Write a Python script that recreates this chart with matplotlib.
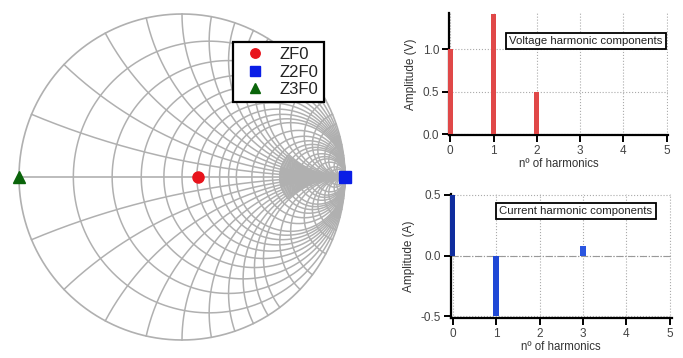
import numpy as np
import matplotlib.pyplot as plt

plt.rcParams['font.family'] = ['Liberation Sans', 'DejaVu Sans']

# Smith chart grid values
r_grid = [0.2, 0.4, 0.6, 0.8, 1.0, 1.2, 1.4, 1.6, 1.8, 2.0, 2.5, 3, 3.5, 4,
          4.5, 5, 6, 7, 8, 10, 15, 20, 50]
x_grid = [0.2, 0.4, 0.6, 0.8, 1.0, 1.2, 1.4, 1.6, 1.8, 2.0, 2.5, 3, 4,
          5, 6, 8, 10, 15, 20, 50]
x_fine = [0.05, 0.1, 0.15, 0.25, 0.3, 0.35, 0.45, 0.5, 0.55, 0.65, 0.7,
          0.75, 0.9, 1.1, 1.3, 1.5, 1.7, 1.9]
r_fine_start = 4.0

# impedance points (reflection coefficient)
gamma_pts = {"ZF0": 0.1 + 0j, "Z2F0": 1.0 + 0j, "Z3F0": -1.0 + 0j}

# harmonic components
harm_n = [0, 1, 2, 3, 4, 5]
volt_amp = [1.0, 1.41, 0.5, 0.0, 0.0, 0.0]
curr_amp = [0.5, -0.5, 0.0, 0.08, 0.0, 0.0]

W, H = 683, 358
fig = plt.figure(figsize=(W / 100, H / 100), dpi=100)
grid_col = "#b0b0b0"


def gam(z):
    return (z - 1) / (z + 1)


# ---- Smith chart ----
cx, cy, R = 182, 177, 163
pad = 6
ax = fig.add_axes([(cx - R - pad) / W, 1 - (cy + R + pad) / H,
                   2 * (R + pad) / W, 2 * (R + pad) / H])
lim = (R + pad) / R
ax.set_xlim(-lim, lim)
ax.set_ylim(-lim, lim)
ax.axis("off")

t = np.linspace(-np.pi / 2 + 1e-4, np.pi / 2 - 1e-4, 800)
# outer circle + horizontal axis
g = gam(0 + 1j * np.tan(t))
ax.plot(g.real, g.imag, color=grid_col, lw=1.2)
ax.plot([-1, 1], [0, 0], color=grid_col, lw=1.2)
for r in r_grid:
    g = gam(r + 1j * np.tan(t))
    ax.plot(g.real, g.imag, color=grid_col, lw=1.1)
tr = np.linspace(0, np.pi / 2 - 1e-4, 800)
for x in x_grid:
    for s in (1, -1):
        g = gam(np.tan(tr) + 1j * s * x)
        ax.plot(g.real, g.imag, color=grid_col, lw=1.1)
tf = np.linspace(np.arctan(r_fine_start), np.pi / 2 - 1e-4, 400)
for x in x_fine:
    for s in (1, -1):
        g = gam(np.tan(tf) + 1j * s * x)
        ax.plot(g.real, g.imag, color=grid_col, lw=0.9)

p = gamma_pts
ax.plot(p["ZF0"].real, p["ZF0"].imag, "o", color="#e8141c", ms=8, label="ZF0", clip_on=False)
ax.plot(p["Z2F0"].real, p["Z2F0"].imag, "s", color="#0a1ee6", ms=9, label="Z2F0", clip_on=False)
ax.plot(p["Z3F0"].real, p["Z3F0"].imag, "^", color="#0a640a", ms=9, label="Z3F0", clip_on=False)
leg = ax.legend(loc="upper left", bbox_to_anchor=((233 - (cx - R - pad)) / (2 * (R + pad)),
                                                  1 - (42 - (cy - R - pad)) / (2 * (R + pad))),
                fontsize=12, frameon=True, fancybox=False, framealpha=1,
                borderpad=0.3, handletextpad=0.5, labelspacing=0.15,
                handlelength=2.0, borderaxespad=0, markerscale=0.85)
leg.get_frame().set_edgecolor("black")
leg.get_frame().set_linewidth(1.6)
for txt in leg.get_texts():
    txt.set_color("#222222")


def style(a):
    for s in ("top", "right"):
        a.spines[s].set_visible(False)
    for s in ("left", "bottom"):
        a.spines[s].set_linewidth(1.6)
    a.tick_params(direction="out", length=5, width=1.4, labelsize=8.5, pad=2,
                  colors="black", labelcolor="#444444")
    a.grid(True, ls=":", color="#aaaaaa", lw=0.8)
    a.set_axisbelow(True)
    a.set_xticks(harm_n)
    a.set_xlabel("nº of harmonics", fontsize=8.3, color="#333333", labelpad=1)


def axes_px(x0, x1, y0, y1):
    return fig.add_axes([x0 / W, 1 - y1 / H, (x1 - x0) / W, (y1 - y0) / H])


def box_text(x, y, s):
    fig.text(x / W, 1 - y / H, s, fontsize=8.2, ha="center", va="center",
             color="#222222",
             bbox=dict(boxstyle="square,pad=0.3", fc="white", ec="black", lw=1.3))


# ---- voltage ----
av = axes_px(449, 668, 13.3, 135.3)
av.bar(harm_n, volt_amp, width=0.12, color="#e04848", zorder=3, clip_on=False)
av.set_xlim(-0.03, 5.03)
av.set_ylim(-0.015, 1.42)
av.set_yticks([0, 0.5, 1.0])
av.set_yticklabels(["0.0", "0.5", "1.0"])
style(av)
av.set_ylabel("Amplitude (V)", fontsize=8.5, color="#333333", labelpad=4)
box_text(586, 41, "Voltage harmonic components")

# ---- current ----
ac = axes_px(450.5, 672, 193.7, 318)
curr_cols = ["#0f2d9e", "#1f48d6", "#1f48d6", "#2a55e0", "#1f48d6", "#1f48d6"]
ac.bar(harm_n, curr_amp, width=0.12, color=curr_cols, zorder=3, clip_on=False)
ac.axhline(0, color="#999999", ls="-.", lw=0.8, zorder=2)
ac.set_xlim(-0.05, 5.05)
ac.set_ylim(-0.515, 0.51)
ac.set_yticks([-0.5, 0, 0.5])
ac.set_yticklabels(["-0.5", "0.0", "0.5"])
style(ac)
ac.set_ylabel("Amplitude (A)", fontsize=8.5, color="#333333", labelpad=4)
box_text(576, 211, "Current harmonic components")

fig.savefig("out.png", dpi=100)
